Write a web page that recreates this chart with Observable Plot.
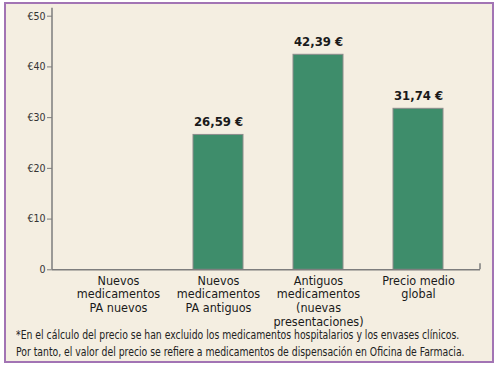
<!DOCTYPE html>
<html><head><meta charset="utf-8">
<script src="https://cdn.jsdelivr.net/npm/d3@7"></script>
<script src="https://cdn.jsdelivr.net/npm/@observablehq/plot@0.6"></script>
<style>
html,body{margin:0;padding:0;background:#fff;}
#frame{position:absolute;left:4px;top:2px;width:486px;height:357px;border:2px solid #a274b4;background:#f4eee1;}
#chart{position:absolute;left:0;top:0;}
#note{position:absolute;left:16px;top:327px;font-family:"DejaVu Sans Condensed","DejaVu Sans",sans-serif;font-stretch:condensed;font-size:12px;line-height:17px;color:#222;white-space:nowrap;transform:scaleX(0.86);transform-origin:0 0;}
</style></head><body>
<div id="frame"></div>
<div id="chart"></div>
<div id="note"></div>
<script>
const categories = ["Nuevos\nmedicamentos\nPA nuevos", "Nuevos\nmedicamentos\nPA antiguos", "Antiguos\nmedicamentos\n(nuevas\npresentaciones)", "Precio medio\nglobal"];
const values = [null, 26.59, 42.39, 31.74];
const valueLabels = ["", "26,59 €", "42,39 €", "31,74 €"];
const yTicks = [0, 10, 20, 30, 40, 50];
const yTickLabels = ["0", "€10", "€20", "€30", "€40", "€50"];
const footnotes = [
  "*En el cálculo del precio se han excluido los medicamentos hospitalarios y los envases clínicos.",
  "Por tanto, el valor del precio se refiere a medicamentos de dispensación en Oficina de Farmacia."
];

const W = 497, H = 320, mL = 52, mR = 17, mT = 15.7, mB = 50.7;
const font = '"DejaVu Sans Condensed","DejaVu Sans",sans-serif';
const data = categories.map((c, i) => ({cat: c, value: values[i], label: valueLabels[i]}));
const shown = data.filter(d => d.value != null);

const chart = Plot.plot({
  width: W, height: H,
  marginLeft: mL, marginRight: mR, marginTop: mT, marginBottom: mB,
  style: {background: "transparent", fontFamily: font, fontStretch: "condensed", overflow: "visible"},
  x: {domain: categories, range: [93, 443.5], paddingInner: 0.5, paddingOuter: 0},
  y: {domain: [0, 50]},
  marks: [
    Plot.barY(shown, {x: "cat", y: "value", fill: "#3e8d6b", stroke: "#8c8c8c", strokeWidth: 1}),
    Plot.ruleY([0], {stroke: "#7d7d7d", strokeWidth: 1.5}),
    Plot.axisY({ticks: yTicks, tickFormat: d => yTickLabels[yTicks.indexOf(d)], tickSize: 5, tickPadding: 2,
      fontSize: 10.5, stroke: "#7d7d7d", fill: "#333", label: null}),
    Plot.axisX({tickSize: 0, tickPadding: 5, fontSize: 12.5, lineHeight: 1.1, label: null, fill: "#1a1a1a",
      stroke: "#1a1a1a", strokeWidth: 0.35}),
    Plot.text(shown, {x: "cat", y: "value", text: "label", dy: -13, fontWeight: "bold", fontSize: 13, fill: "#1a1a1a"})
  ]
});

const ys = chart.scale("y");
const svg = d3.select(chart);
svg.append("line").attr("x1", mL).attr("x2", mL)
  .attr("y1", ys.apply(50) - 8).attr("y2", ys.apply(0))
  .attr("stroke", "#7d7d7d").attr("stroke-width", 1.5);
svg.append("line").attr("x1", W - mR).attr("x2", W - mR)
  .attr("y1", ys.apply(0) - 6).attr("y2", ys.apply(0))
  .attr("stroke", "#7d7d7d").attr("stroke-width", 1.5);

document.getElementById("chart").appendChild(chart);
document.getElementById("note").innerHTML = footnotes.join("<br>");
</script>
</body></html>
